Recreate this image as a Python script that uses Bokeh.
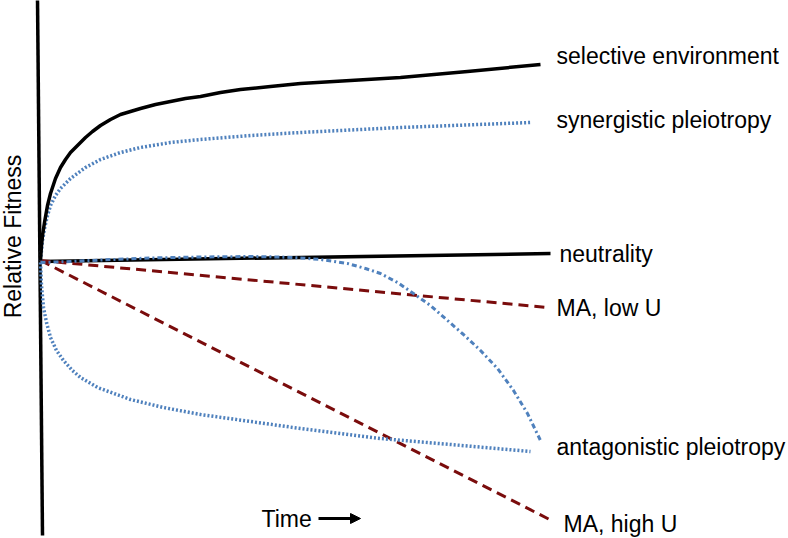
import math
from bokeh.plotting import figure
from bokeh.models import Range1d, Label, Arrow, NormalHead
from bokeh.core.properties import value
from bokeh.embed import file_html
from bokeh.resources import INLINE

# ---- data (time units, relative fitness units; neutrality = 0) ----
axis_t = [-0.06, 0.04]
axis_f = [2.62, -2.75]

sel_t = [0, 0.02, 0.04, 0.08, 0.14, 0.2, 0.3, 0.4, 0.5, 0.6, 0.76, 0.9, 1.04, 1.2, 1.4, 1.6, 1.8,
         2.0, 2.3, 2.6, 2.9, 3.2, 3.6, 4.0, 4.6, 5.2, 6.2, 7.2, 8.54, 10.0]
sel_f = [0, 0.15, 0.25, 0.38, 0.55, 0.67, 0.82, 0.93, 1.01, 1.08, 1.16, 1.23, 1.29, 1.35, 1.41, 1.46,
         1.49, 1.52, 1.56, 1.59, 1.62, 1.64, 1.68, 1.71, 1.74, 1.77, 1.80, 1.83, 1.89, 1.96]

syn_t = [0, 0.02, 0.04, 0.08, 0.14, 0.2, 0.3, 0.4, 0.6, 0.9, 1.2, 1.6, 2.0, 2.6, 3.2, 4.2, 5.2, 7.2, 9.8]
syn_f = [0, 0.10, 0.20, 0.32, 0.45, 0.55, 0.65, 0.72, 0.82, 0.93, 1.01, 1.08, 1.13, 1.18, 1.21,
         1.25, 1.28, 1.33, 1.38]

neu_t = [0, 10.2]
neu_f = [-0.01, 0.07]

malow_t = [0, 10.14]
malow_f = [0, -0.47]

mahigh_t = [0, 10.26]
mahigh_f = [0, -2.61]

ant_t = [0, 0.02, 0.06, 0.12, 0.2, 0.32, 0.46, 0.64, 0.8, 1.14, 1.8, 2.46, 3.2, 4.2, 5.2, 6.8, 8.2, 9.8]
ant_f = [-0.02, -0.25, -0.47, -0.62, -0.77, -0.90, -1.00, -1.10, -1.17, -1.27, -1.39, -1.47, -1.54,
         -1.61, -1.68, -1.78, -1.84, -1.91]

ant2_t = [0, 0.6, 1.2, 2.2, 3.2, 4.2, 4.8, 5.2, 5.6, 6.14, 6.5, 6.8, 7.14, 7.46, 7.8, 8.14, 8.46,
          8.8, 9.14, 9.46, 9.74, 10.0]
ant2_f = [-0.02, -0.01, 0.005, 0.025, 0.035, 0.04, 0.035, 0.025, 0.01, -0.03, -0.08, -0.13, -0.22,
          -0.33, -0.45, -0.60, -0.74, -0.90, -1.08, -1.30, -1.53, -1.80]

labels = ["selective environment", "synergistic pleiotropy", "neutrality",
          "MA, low U", "antagonistic pleiotropy", "MA, high U"]
y_label = "Relative Fitness"
x_label = "Time"

BLACK = "#000000"
BLUE = "#4F81BD"
RED = "#7A0C0C"
FONT = "Liberation Sans"

p = figure(width=788, height=538, output_backend="svg", toolbar_location=None,
           x_range=Range1d(-0.8, 14.96), y_range=Range1d(-2.78, 2.60),
           min_border=0, outline_line_color=None)
p.axis.visible = False
p.grid.visible = False
p.background_fill_color = "white"
p.border_fill_color = "white"

# axis line
p.line(axis_t, axis_f, line_color=BLACK, line_width=3.5)

p.line(neu_t, neu_f, line_color=BLACK, line_width=3.5)
p.line(malow_t, malow_f, line_color=RED, line_width=3, line_dash="10 6")
p.line(mahigh_t, mahigh_f, line_color=RED, line_width=3, line_dash="10 6")
p.line(ant2_t, ant2_f, line_color=BLUE, line_width=3, line_dash="5 3 2 3", line_join="round")
p.line(ant_t, ant_f, line_color=BLUE, line_width=3.5, line_dash="2 2")
p.line(syn_t, syn_f, line_color=BLUE, line_width=3.5, line_dash="2 2")
p.line(sel_t, sel_f, line_color=BLACK, line_width=3.5, line_join="round")

lab_x = [10.32, 10.32, 10.38, 10.32, 10.32, 10.46]
lab_y = [2.05, 1.41, 0.07, -0.47, -1.86, -2.63]
p.text(x=lab_x, y=lab_y, text=labels, text_font=value(FONT), text_font_size="23px",
       text_baseline="middle", text_align="left", text_color=BLACK)

p.add_layout(Label(x=4.42, y=-2.58, text=x_label, text_font=FONT, text_font_size="23px",
                   text_baseline="middle", text_align="left", text_color=BLACK))
p.add_layout(Arrow(end=NormalHead(size=10, fill_color=BLACK, line_color=BLACK, line_width=1),
                   x_start=5.56, y_start=-2.58, x_end=6.4, y_end=-2.58,
                   line_width=3, line_color=BLACK))
p.add_layout(Label(x=-0.55, y=0.24, text=y_label, text_font=FONT, text_font_size="23px",
                   angle=math.pi / 2, text_baseline="middle", text_align="center",
                   text_color=BLACK))

open("out.html", "w").write(file_html(p, INLINE))
